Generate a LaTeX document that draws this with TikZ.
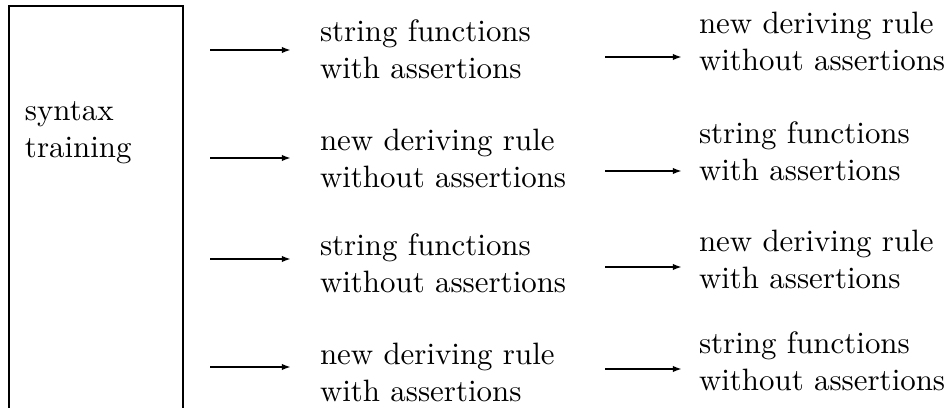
\documentclass[tikz,border=0pt]{standalone}
\usetikzlibrary{arrows.meta}
\tikzset{
  lbl/.style={anchor=base west, align=left, inner sep=0pt, outer sep=0pt,
              font=\fontsize{10.2pt}{12pt}\selectfont},
  flow/.style={-{Latex[length=3pt,width=2.1pt]}, line width=0.6pt},
  framebox/.style={draw, line width=0.6pt, anchor=north west, inner sep=0pt,
                   outer sep=0pt, minimum width=57.4pt, minimum height=150pt}
}
\begin{document}
\begin{tikzpicture}[x=0.33pt,y=-0.33pt]
\useasboundingbox (0,0) rectangle (949,407);
\clip (0,0) rectangle (949,407);

\node[framebox] (box) at (9,6) {};
% base anchor = baseline of the last line
\node[lbl] (syn) at (25,157) {syntax\\training};

% middle column
\node[lbl] (m1) at (320,78)  {string functions\\with assertions};
\node[lbl] (m2) at (320,187) {new deriving rule\\without assertions};
\node[lbl] (m3) at (320,292) {string functions\\without assertions};
\node[lbl] (m4) at (320,401) {new deriving rule\\with assertions};

% right column
\node[lbl] (r1) at (699,70)  {new deriving rule\\without assertions};
\node[lbl] (r2) at (699,180) {string functions\\with assertions};
\node[lbl] (r3) at (699,288) {new deriving rule\\with assertions};
\node[lbl] (r4) at (699,390) {string functions\\without assertions};

% arrow end points
\coordinate (l1s) at (210,50);  \coordinate (l1e) at (291,50);
\coordinate (l2s) at (210,158); \coordinate (l2e) at (291,158);
\coordinate (l3s) at (210,259); \coordinate (l3e) at (291,259);
\coordinate (l4s) at (210,367); \coordinate (l4e) at (291,367);
\coordinate (k1s) at (605,57);  \coordinate (k1e) at (682,57);
\coordinate (k2s) at (605,171); \coordinate (k2e) at (682,171);
\coordinate (k3s) at (605,267); \coordinate (k3e) at (682,267);
\coordinate (k4s) at (605,369); \coordinate (k4e) at (682,369);

\foreach \i in {1,2,3,4} {
  \draw[flow] (l\i s) -- (l\i e);
  \draw[flow] (k\i s) -- (k\i e);
}
\end{tikzpicture}
\end{document}
